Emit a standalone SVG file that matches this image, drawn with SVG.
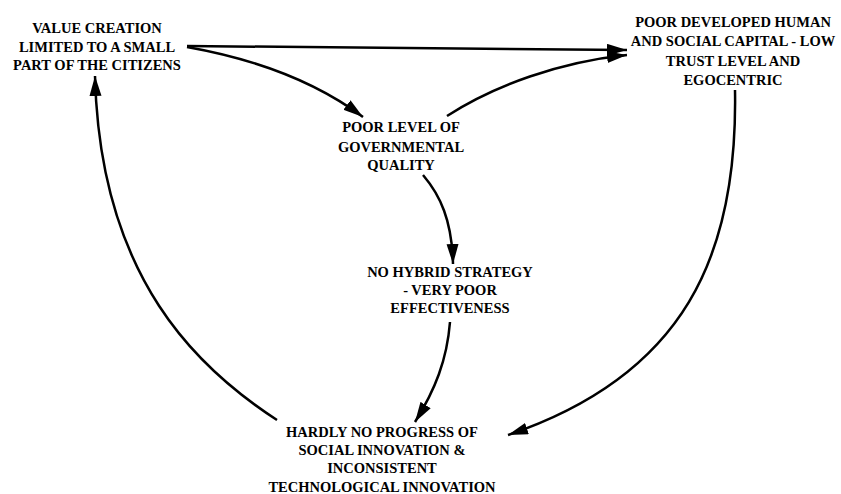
<svg xmlns="http://www.w3.org/2000/svg" width="841" height="494" viewBox="0 0 841 494">
<style>
.c{fill:none;stroke:#000;stroke-width:2.5;marker-end:url(#ah)}
</style>
<defs>
<marker id="ah" markerUnits="userSpaceOnUse" markerWidth="22" markerHeight="13" refX="20" refY="6" orient="auto">
<path d="M0,0 L20,6 L0,12 z" fill="#000"/>
</marker>
</defs>
<rect width="841" height="494" fill="#fff"/>
<g id="connectors">
<path class="c" d="M187,46 L627,50"/>
<path class="c" d="M187,47 C260,60 320,85 363,117"/>
<path class="c" d="M447,116 C495,85 560,62 627,55"/>
<path class="c" d="M423,175 C440,195 452,220 453,264"/>
<path class="c" d="M450,322 C447,360 435,390 415,422"/>
<path class="c" d="M735,90 C738,255 685,375 508,435"/>
<path class="c" d="M277,420 C200,370 100,280 95,76"/>
</g>
<g font-family="Liberation Serif, Times New Roman, serif" font-weight="bold" font-size="14.5" text-anchor="middle" fill="#000">
<g id="n1">
<text x="97" y="33">VALUE CREATION</text>
<text x="97" y="52">LIMITED TO A SMALL</text>
<text x="97" y="70">PART OF THE CITIZENS</text>
</g>
<g id="n2">
<text x="733" y="27">POOR DEVELOPED HUMAN</text>
<text x="733" y="46">AND SOCIAL CAPITAL - LOW</text>
<text x="733" y="66">TRUST LEVEL AND</text>
<text x="733" y="85">EGOCENTRIC</text>
</g>
<g id="n3">
<text x="401" y="132">POOR LEVEL OF</text>
<text x="401" y="152">GOVERNMENTAL</text>
<text x="401" y="170">QUALITY</text>
</g>
<g id="n4">
<text x="450" y="277">NO HYBRID STRATEGY</text>
<text x="450" y="295">- VERY POOR</text>
<text x="450" y="313">EFFECTIVENESS</text>
</g>
<g id="n5">
<text x="382" y="437">HARDLY NO PROGRESS OF</text>
<text x="382" y="455">SOCIAL INNOVATION &amp;</text>
<text x="382" y="473">INCONSISTENT</text>
<text x="382" y="492">TECHNOLOGICAL INNOVATION</text>
</g>
</g>
</svg>
